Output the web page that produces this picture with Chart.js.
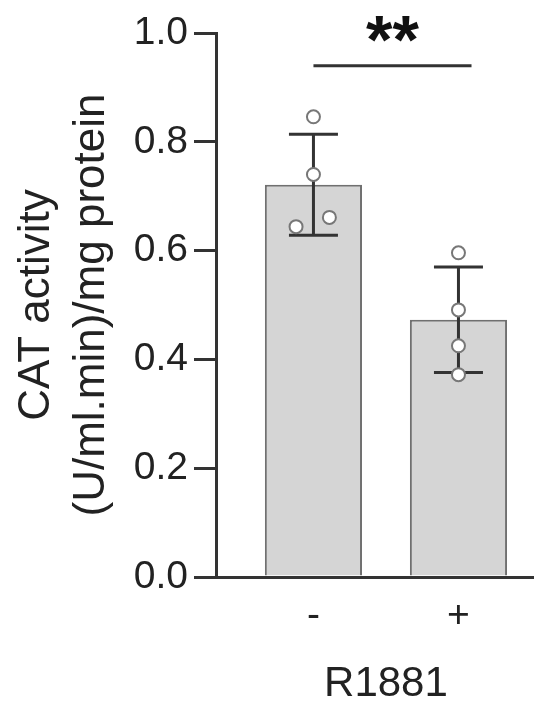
<!DOCTYPE html>
<html>
<head>
<meta charset="utf-8">
<script src="https://cdn.jsdelivr.net/npm/chart.js@4.4.0/dist/chart.umd.min.js"></script>
<style>
  html, body { margin: 0; padding: 0; background: #fff; }
  #wrap { width: 550px; height: 717px; }
</style>
</head>
<body>
<div id="wrap"><canvas id="catChart" width="550" height="717"></canvas></div>
<script>
// data
const categories = ["-", "+"];
const barMeans = [0.721, 0.473];
const barSDs = [0.093, 0.097];
const replicatesMinus = [0.846, 0.740, 0.661, 0.644];
const replicatesPlus = [0.596, 0.491, 0.425, 0.372];
const jitterMinus = [0, 0, 0.11, -0.12];
const jitterPlus = [0, 0, 0, 0];
const yTicks = [0, 0.2, 0.4, 0.6, 0.8, 1.0];
const sigSpan = [0, 1.09];
const sigLevel = 0.94;
const sigLabel = "**";
const yTitle = ["CAT activity", "(U/ml.min)/mg protein"];
const xTitle = "R1881";

const FONT = "'Liberation Sans', Arial, sans-serif";
const INK = "#333";
Chart.defaults.font.family = FONT;

const replicates = [replicatesMinus, replicatesPlus];
const jitters = [jitterMinus, jitterPlus];
const points = [];
replicates.forEach((vals, i) => {
  vals.forEach((v, j) => points.push({ x: i + jitters[i][j], y: v }));
});

// error bars, significance bar and x title
const overlay = {
  id: "overlay",
  afterDatasetDraw(chart, args) {
    if (args.index !== 0) return;
    const { ctx, scales: { x, y } } = chart;
    ctx.save();
    ctx.strokeStyle = INK;
    ctx.lineWidth = 3;
    barMeans.forEach((m, i) => {
      const px = x.getPixelForValue(i);
      const top = y.getPixelForValue(m + barSDs[i]);
      const bot = y.getPixelForValue(m - barSDs[i]);
      ctx.beginPath();
      ctx.moveTo(px, top);
      ctx.lineTo(px, bot);
      ctx.moveTo(px - 24.5, top);
      ctx.lineTo(px + 24.5, top);
      ctx.moveTo(px - 24.5, bot);
      ctx.lineTo(px + 24.5, bot);
      ctx.stroke();
    });
    ctx.restore();
  },
  afterDraw(chart) {
    const { ctx, scales: { x, y } } = chart;
    ctx.save();
    // significance line
    const x1 = x.getPixelForValue(sigSpan[0]);
    const x2 = x.getPixelForValue(sigSpan[1]);
    const ly = y.getPixelForValue(sigLevel);
    ctx.strokeStyle = INK;
    ctx.lineWidth = 3;
    ctx.beginPath();
    ctx.moveTo(x1, ly);
    ctx.lineTo(x2, ly);
    ctx.stroke();
    ctx.fillStyle = "#111";
    ctx.font = "bold 68px " + FONT;
    ctx.textAlign = "center";
    ctx.textBaseline = "alphabetic";
    ctx.fillText(sigLabel, (x1 + x2) / 2, ly - 3);
    // x axis title, centred under the two bars
    const mid = (x.getPixelForValue(0) + x.getPixelForValue(categories.length - 1)) / 2;
    ctx.fillStyle = "#222";
    ctx.font = "42px " + FONT;
    ctx.textBaseline = "middle";
    ctx.fillText(xTitle, mid, 684);
    ctx.restore();
  }
};

new Chart(document.getElementById("catChart"), {
  type: "bar",
  data: {
    datasets: [
      {
        type: "bar",
        data: barMeans.map((v, i) => ({ x: i, y: v })),
        backgroundColor: "#d5d5d5",
        borderColor: "#707070",
        borderWidth: 2,
        barPercentage: 0.67,
        categoryPercentage: 1,
        order: 2,
      },
      {
        type: "scatter",
        data: points,
        pointRadius: 6.5,
        pointBorderWidth: 2,
        pointBorderColor: "#777",
        pointBackgroundColor: "#fff",
        order: 1,
      },
    ],
  },
  options: {
    responsive: false,
    animation: false,
    layout: { padding: { top: 33, right: 17, bottom: 0, left: 0 } },
    plugins: {
      legend: { display: false },
      tooltip: { enabled: false },
    },
    scales: {
      x: {
        type: "linear",
        offset: false,
        min: -0.672,
        max: 1.514,
        afterFit: (scale) => { scale.height = 140; },
        afterBuildTicks: (scale) => { scale.ticks = categories.map((_, i) => ({ value: i })); },
        grid: { display: false, drawTicks: false },
        border: { color: INK, width: 3 },
        ticks: {
          padding: 16,
          color: "#222",
          font: { size: 39 },
          callback: (v) => categories[v] ?? "",
        },
      },
      y: {
        min: 0,
        max: 1,
        afterFit: (scale) => { scale.width = 216; },
        afterBuildTicks: (scale) => { scale.ticks = yTicks.map((v) => ({ value: v })); },
        grid: { drawOnChartArea: false, drawTicks: true, tickLength: 22, lineWidth: 3, color: INK },
        border: { color: INK, width: 3 },
        ticks: {
          padding: 6,
          color: "#222",
          font: { size: 39 },
          callback: (v) => v.toFixed(1),
        },
        title: {
          display: true,
          text: yTitle,
          color: "#222",
          font: { size: 44, lineHeight: 1.25 },
          padding: { top: 9.5, bottom: 0 },
        },
      },
    },
  },
  plugins: [overlay],
});
</script>
</body>
</html>
